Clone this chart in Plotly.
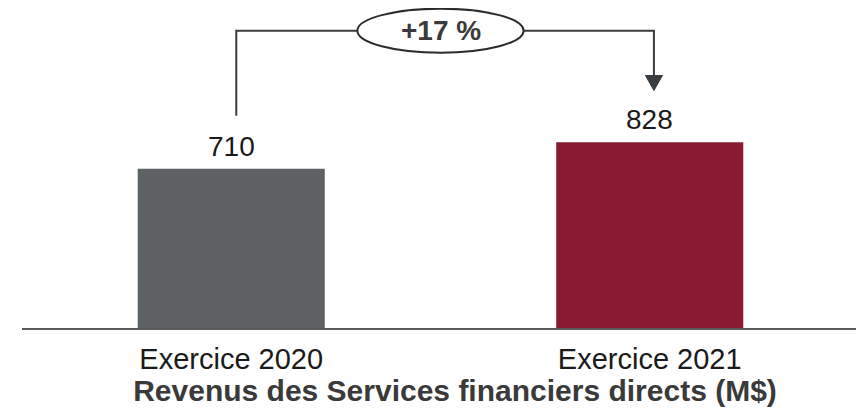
import plotly.graph_objects as go

categories = ["Exercice 2020", "Exercice 2021"]
revenues = [710, 828]
bar_colors = ["#5e6265", "#8a1a33"]
chart_title = "Revenus des Services financiers directs (M$)"

growth = round((revenues[1] - revenues[0]) / revenues[0] * 100)
growth_label = f"+{growth} %"

FONT = "Liberation Sans, Arial, sans-serif"
LINE = "#3a3d40"

fig = go.Figure()
fig.add_trace(
    go.Bar(
        x=[0, 1],
        y=revenues,
        width=0.447,
        marker={"color": bar_colors, "line": {"width": 0}},
        hoverinfo="skip",
    )
)

# value labels above the bars
for i, v in enumerate(revenues):
    fig.add_annotation(
        x=i, y=v, text=str(v), showarrow=False,
        yanchor="middle", yshift=22 if i == 0 else 23,
        font={"family": FONT, "size": 28, "color": "#1a1a1a"},
    )

# growth bracket
y_top = 1326
x_left, x_right = 0.012, 1.01
y_left0 = revenues[0] + 237
y_head = revenues[1] + 298
y_tip = revenues[1] + 231
hw = 0.0203
fig.add_shape(
    type="path",
    path=f"M {x_left},{y_left0} L {x_left},{y_top} L {x_right},{y_top} L {x_right},{y_head}",
    xref="x", yref="y", line={"color": LINE, "width": 2},
)
fig.add_shape(
    type="path",
    path=f"M {x_right - hw},{y_head} L {x_right + hw},{y_head} L {x_right},{y_tip} Z",
    xref="x", yref="y", line={"color": LINE, "width": 1}, fillcolor=LINE,
)
fig.add_shape(
    type="circle",
    x0=0.3014, x1=0.6986, y0=y_top - 98, y1=y_top + 98,
    xref="x", yref="y", line={"color": "#2b2b2b", "width": 2}, fillcolor="white",
)
fig.add_annotation(
    x=0.5, y=y_top, text=f"<b>{growth_label}</b>", showarrow=False,
    yanchor="middle", yshift=0,
    font={"family": FONT, "size": 28, "color": "#3a3a3a"},
)

fig.update_xaxes(
    range=[-0.5, 1.5],
    tickvals=[0, 1],
    ticktext=categories,
    showline=True, linecolor="#5b5b5b", linewidth=2,
    showgrid=False, zeroline=False,
    ticks="outside", ticklen=4, tickcolor="rgba(0,0,0,0)",
    tickfont={"family": FONT, "size": 29, "color": "#1a1a1a"},
)
fig.update_yaxes(range=[0, 1427], visible=False, showgrid=False, zeroline=False)

fig.update_layout(
    width=856,
    height=410,
    margin={"l": 14, "r": 5, "t": 0, "b": 90},
    plot_bgcolor="white",
    paper_bgcolor="white",
    showlegend=False,
    title={
        "text": f"<b>{chart_title}</b>",
        "x": 447 / 856, "xanchor": "center",
        "y": 1 - 382 / 410, "yanchor": "middle",
        "font": {"family": FONT, "size": 30, "color": "#3a3a3a"},
    },
)

fig.write_html("out.html")
